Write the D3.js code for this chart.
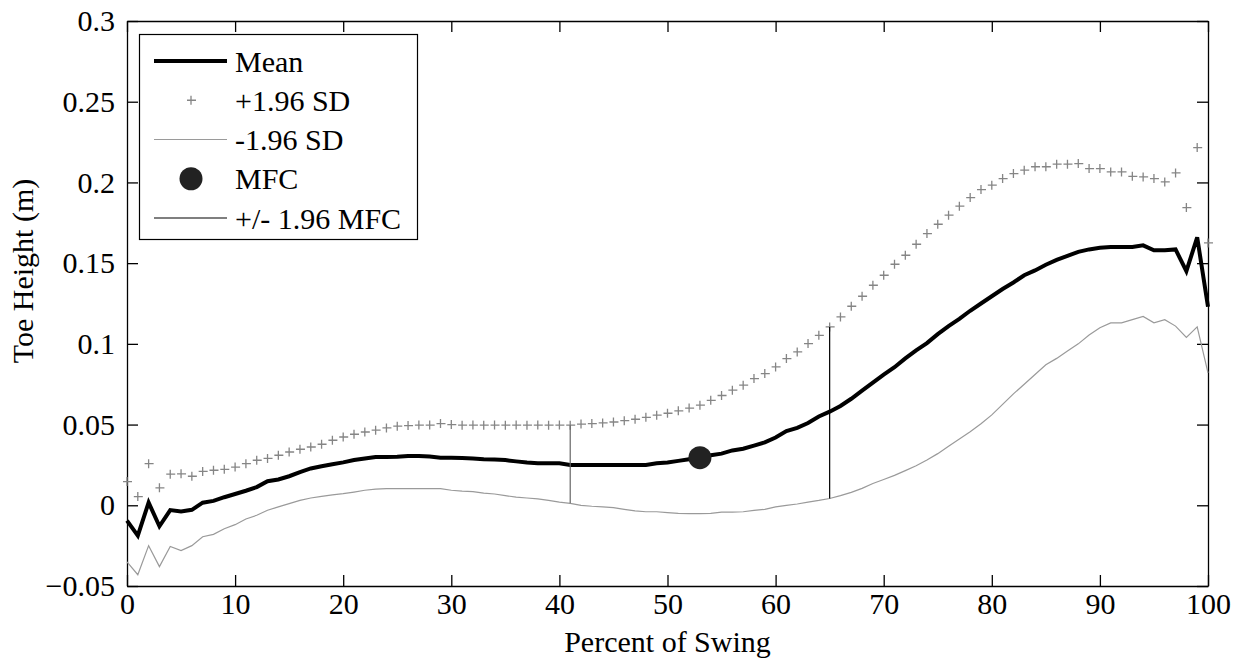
<!DOCTYPE html>
<html>
<head>
<meta charset="utf-8">
<script src="https://cdn.jsdelivr.net/npm/d3@7"></script>
<style>
  body { margin: 0; background: #fff; }
  text { font-family: "Liberation Serif", "Times New Roman", serif; fill: #000; }
</style>
</head>
<body>
<div id="chart"></div>
<script>
var svgWidth = 1240;
var svgHeight = 660;

// percent of swing 0..100
var swing = d3.range(0, 101);

var meanValues = [
  -0.0095, -0.0188, 0.0017, -0.013, -0.003, -0.0038, -0.0028, 0.0016, 0.0027, 0.005,
  0.007, 0.009, 0.0113, 0.0149, 0.016, 0.018, 0.0205, 0.0228, 0.0242, 0.0254,
  0.0266, 0.028, 0.029, 0.0299, 0.0299, 0.03, 0.0305, 0.0305, 0.0302, 0.0295,
  0.0295, 0.0293, 0.029, 0.0285, 0.0283, 0.028, 0.0272, 0.0265, 0.026, 0.026,
  0.026, 0.025, 0.025, 0.025, 0.025, 0.025, 0.025, 0.025, 0.025, 0.026,
  0.0265, 0.0275, 0.0285, 0.0295, 0.031, 0.032, 0.034, 0.035, 0.037, 0.039,
  0.042, 0.046, 0.048, 0.051, 0.055, 0.058, 0.0615, 0.066, 0.071, 0.076,
  0.081, 0.0855, 0.091, 0.096, 0.1005, 0.106, 0.111, 0.1155, 0.1205, 0.125,
  0.1295, 0.134, 0.138, 0.1425, 0.1455, 0.149, 0.152, 0.1545, 0.157, 0.1585,
  0.1595, 0.16, 0.16, 0.16, 0.161, 0.158, 0.158, 0.1585, 0.145, 0.166,
  0.123
];

var plusSD = [
  0.0147, 0.0054, 0.0258, 0.0108, 0.0193, 0.0195, 0.018, 0.021, 0.0217, 0.0223,
  0.0237, 0.0258, 0.0279, 0.029, 0.031, 0.033, 0.0347, 0.0361, 0.0378, 0.0403,
  0.0423, 0.044, 0.0454, 0.0465, 0.0479, 0.049, 0.0494, 0.0497, 0.0497, 0.0506,
  0.05, 0.0496, 0.0497, 0.0496, 0.0497, 0.0496, 0.0497, 0.0496, 0.0497, 0.0496,
  0.0497, 0.0496, 0.0503, 0.0506, 0.051, 0.0516, 0.0524, 0.0533, 0.0545, 0.0558,
  0.057, 0.0585, 0.0602, 0.062, 0.065, 0.068, 0.0713, 0.0744, 0.0785, 0.0816,
  0.0857, 0.0909, 0.095, 0.1002, 0.1053, 0.1105, 0.1167, 0.1233, 0.1295, 0.1363,
  0.1425, 0.1493, 0.1549, 0.1617, 0.1683, 0.1741, 0.1797, 0.1853, 0.1906, 0.1956,
  0.1983, 0.2024, 0.2055, 0.2076, 0.2097, 0.2097, 0.2113, 0.2113, 0.2117, 0.2086,
  0.2086, 0.2065, 0.2065, 0.2038, 0.2034, 0.2024, 0.2003, 0.2059, 0.1844, 0.2216,
  0.1625
];

var minusSD = [
  -0.035, -0.043, -0.025, -0.038, -0.0255, -0.028, -0.025, -0.0195, -0.018, -0.0145,
  -0.012, -0.0085, -0.0062, -0.0031, -0.001, 0.001, 0.003, 0.0045, 0.0055, 0.0065,
  0.0072, 0.0082, 0.0093, 0.01, 0.0103, 0.0103, 0.0103, 0.0103, 0.0103, 0.0103,
  0.0093, 0.0088, 0.0085, 0.0075, 0.007, 0.006, 0.005, 0.0045, 0.004, 0.003,
  0.002, 0.0012, 0, -0.0006, -0.001, -0.0015, -0.0025, -0.0035, -0.004, -0.004,
  -0.0045, -0.005, -0.0052, -0.0052, -0.005, -0.0042, -0.0042, -0.004, -0.0032, -0.0025,
  -0.001, 0, 0.0008, 0.002, 0.003, 0.0042, 0.006, 0.008, 0.0105, 0.0135,
  0.016, 0.0185, 0.0215, 0.0245, 0.028, 0.032, 0.0365, 0.041, 0.0455, 0.0505,
  0.056, 0.0625, 0.069, 0.075, 0.081, 0.087, 0.091, 0.0955, 0.1, 0.1055,
  0.11, 0.113, 0.113, 0.115, 0.117, 0.113, 0.115, 0.111, 0.104, 0.1105,
  0.082
];

// minimum foot clearance and its +/- 1.96 SD range (percent of swing)
var mfcPoint = [53, 0.0295];
var mfcRange = [41, 65];

var xTicks = d3.range(0, 101, 10);
var yTicks = [-0.05, 0, 0.05, 0.1, 0.15, 0.2, 0.25, 0.3];

var legendLabels = ["Mean", "+1.96 SD", "-1.96 SD", "MFC", "+/- 1.96 MFC"];

var plot = { left: 127, right: 1208, top: 21, bottom: 586 };

var svg = d3.select("#chart")
  .append("svg")
  .attr("width", svgWidth)
  .attr("height", svgHeight);

var xScale = d3.scaleLinear().domain([0, 100]).range([plot.left, plot.right]);
var yScale = d3.scaleLinear().domain([-0.05, 0.3]).range([plot.bottom, plot.top]);

// axes, MATLAB style: ticks inside, box on
var tickLen = 11;
var fmtY = function(d) { return d3.format("~g")(+d.toFixed(2)); };

var bottomAxis = svg.append("g")
  .attr("transform", `translate(0, ${plot.bottom})`)
  .call(d3.axisBottom(xScale).tickValues(xTicks).tickSizeInner(-tickLen).tickSizeOuter(0).tickPadding(7));

var topAxis = svg.append("g")
  .attr("transform", `translate(0, ${plot.top})`)
  .call(d3.axisTop(xScale).tickValues(xTicks).tickSizeInner(-tickLen).tickSizeOuter(0).tickFormat(""));

var leftAxis = svg.append("g")
  .attr("transform", `translate(${plot.left}, 0)`)
  .call(d3.axisLeft(yScale).tickValues(yTicks).tickFormat(fmtY).tickSizeInner(-tickLen).tickSizeOuter(0).tickPadding(12));

var rightAxis = svg.append("g")
  .attr("transform", `translate(${plot.right}, 0)`)
  .call(d3.axisRight(yScale).tickValues(yTicks).tickSizeInner(-tickLen).tickSizeOuter(0).tickFormat(""));

[bottomAxis, topAxis, leftAxis, rightAxis].forEach(function(ax) {
  ax.attr("font-family", "Liberation Serif").attr("font-size", 30);
  ax.select(".domain").attr("stroke", "#000").attr("stroke-width", 1.3);
  ax.selectAll(".tick line").attr("stroke", "#000").attr("stroke-width", 1.3);
  ax.selectAll(".tick text")
    .style("font-family", "'Liberation Serif', serif")
    .style("font-size", "30px")
    .attr("fill", "#000");
});

// axis titles
svg.append("text")
  .attr("x", (plot.left + plot.right) / 2)
  .attr("y", 652)
  .attr("text-anchor", "middle")
  .style("font-size", "30px")
  .text("Percent of Swing");

svg.append("text")
  .attr("transform", "translate(33, 271) rotate(-90)")
  .attr("text-anchor", "middle")
  .style("font-size", "30px")
  .text("Toe Height (m)");

// data
var chartGroup = svg.append("g");

var lineGen = function(values) {
  return d3.line()
    .x((d, i) => xScale(swing[i]))
    .y(d => yScale(d))(values);
};

chartGroup.append("path")
  .attr("d", lineGen(minusSD))
  .attr("fill", "none")
  .attr("stroke", "#9a9a9a")
  .attr("stroke-width", 1.2);

chartGroup.selectAll(".plus")
  .data(plusSD)
  .enter()
  .append("path")
  .attr("class", "plus")
  .attr("transform", (d, i) => `translate(${xScale(swing[i])}, ${yScale(d)})`)
  .attr("d", "M-4,0H5M0,-4.5V4.5")
  .attr("fill", "none")
  .attr("stroke", "#858585")
  .attr("stroke-width", 1.3);

chartGroup.append("path")
  .attr("d", lineGen(meanValues))
  .attr("fill", "none")
  .attr("stroke", "#000")
  .attr("stroke-width", 4)
  .attr("stroke-linejoin", "miter");

// +/- 1.96 MFC bounds
chartGroup.selectAll(".mfcRange")
  .data(mfcRange)
  .enter()
  .append("line")
  .attr("class", "mfcRange")
  .attr("x1", d => xScale(d))
  .attr("x2", d => xScale(d))
  .attr("y1", d => yScale(minusSD[d]))
  .attr("y2", d => yScale(plusSD[d]))
  .attr("stroke", (d, i) => i === 0 ? "#666" : "#000")
  .attr("stroke-width", 1.2);

chartGroup.append("circle")
  .attr("cx", xScale(mfcPoint[0]))
  .attr("cy", yScale(mfcPoint[1]))
  .attr("r", 11.5)
  .attr("fill", "#222");

// legend
var legend = svg.append("g");
legend.append("rect")
  .attr("x", 139.5)
  .attr("y", 34.5)
  .attr("width", 278)
  .attr("height", 205)
  .attr("fill", "#fff")
  .attr("stroke", "#000")
  .attr("stroke-width", 1.2);

var rowY = d3.scaleLinear().domain([0, 4]).range([61, 218]);

legendLabels.forEach(function(label, i) {
  var y = rowY(i);
  if (i === 0) {
    legend.append("line").attr("x1", 154).attr("x2", 227).attr("y1", y).attr("y2", y)
      .attr("stroke", "#000").attr("stroke-width", 4);
  } else if (i === 1) {
    legend.append("path").attr("transform", `translate(191, ${y})`)
      .attr("d", "M-4,0H5M0,-4.5V4.5")
      .attr("fill", "none").attr("stroke", "#858585").attr("stroke-width", 1.3);
  } else if (i === 2) {
    legend.append("line").attr("x1", 154).attr("x2", 227).attr("y1", y).attr("y2", y)
      .attr("stroke", "#9a9a9a").attr("stroke-width", 1.2);
  } else if (i === 3) {
    legend.append("circle").attr("cx", 191).attr("cy", y).attr("r", 11.5).attr("fill", "#222");
  } else {
    legend.append("line").attr("x1", 154).attr("x2", 227).attr("y1", y).attr("y2", y)
      .attr("stroke", "#000").attr("stroke-width", 1.2);
  }
  legend.append("text")
    .attr("x", 235)
    .attr("y", y)
    .attr("dy", "0.35em")
    .style("font-size", "30px")
    .style("font-family", "'Liberation Serif', serif")
    .text(label);
});
</script>
</body>
</html>
